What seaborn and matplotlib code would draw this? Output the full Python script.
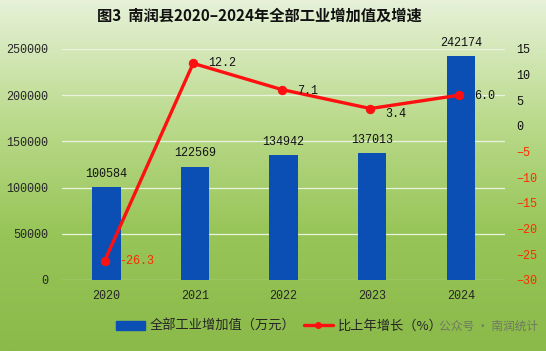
import numpy as np
import pandas as pd
import seaborn as sns
import matplotlib.pyplot as plt
from matplotlib.colors import LinearSegmentedColormap
from matplotlib.patches import Patch
from matplotlib.lines import Line2D

# chart data
years = ['2020', '2021', '2022', '2023', '2024']
value_added = [100584, 122569, 134942, 137013, 242174]
growth = [-26.3, 12.2, 7.1, 3.4, 6.0]
left_ticks = [0, 50000, 100000, 150000, 200000, 250000]
right_ticks = [-30, -25, -20, -15, -10, -5, 0, 5, 10, 15]

sns.set_style('white')
plt.rcParams['font.family'] = ['Noto Sans CJK SC', 'DejaVu Sans']
num_font = 'Liberation Mono'

df = pd.DataFrame({'year': years, 'value': value_added, 'growth': growth})

fig = plt.figure(figsize=(5.46, 3.51), dpi=100)

# green gradient background
bg = fig.add_axes([0, 0, 1, 1], zorder=-10)
grad = np.linspace(0, 1, 256).reshape(-1, 1)
cmap = LinearSegmentedColormap.from_list('bg', ['#e6f1d8', '#bcdb8e', '#97c557', '#8bb94a'])
bg.imshow(grad, aspect='auto', cmap=cmap, extent=[0, 1, 0, 1], origin='upper')
bg.axis('off')

ax = fig.add_axes([0.1136, 0.2023, 0.8114, 0.6581])
ax.patch.set_alpha(0)
sns.barplot(data=df, x='year', y='value', color='#0b4fb5', width=0.32,
            saturation=1, linewidth=0, ax=ax, zorder=3)
ax.set_ylim(0, 250000)
ax.set_xlim(-0.5, 4.5)
ax.set_yticks(left_ticks)
ax.set_yticklabels([str(t) for t in left_ticks], fontfamily=num_font, fontsize=8.5)
ax.set_xticks(range(len(years)))
ax.set_xticklabels(years, fontfamily=num_font, fontsize=8.5)
ax.set_xlabel('')
ax.set_ylabel('')
for t in left_ticks:
    ax.axhline(t, color='#eaf3df', lw=0.9, zorder=1)
for s in ax.spines.values():
    s.set_visible(False)
ax.tick_params(length=0, pad=10)
ax.tick_params(axis='x', pad=7)
for i, v in enumerate(value_added):
    ax.text(i, v + 8000, str(v), ha='center', va='bottom',
            fontfamily=num_font, fontsize=8.5, color='#111111', zorder=5)

ax2 = ax.twinx()
sns.lineplot(x=np.arange(len(years)) - 0.02, y=growth, color='#ff1010', lw=2.4,
             marker='o', markersize=6, markeredgecolor='#ff1010', ax=ax2, zorder=4)
ax2.set_ylim(-30, 15)
ax2.set_yticks(right_ticks)
ax2.set_yticklabels([str(t).replace('-', '\u2212') for t in right_ticks],
                    fontfamily=num_font, fontsize=8.5)
for lbl, t in zip(ax2.get_yticklabels(), right_ticks):
    lbl.set_color('#ff2a00' if t < 0 else '#111111')
ax2.tick_params(length=0, pad=8)
for s in ax2.spines.values():
    s.set_visible(False)

offsets = [(0.15, 0), (0.15, 0), (0.15, -0.2), (0.15, -1.0), (0.15, -0.2)]
for i, g in enumerate(growth):
    dx, dy = offsets[i]
    ax2.text(i + dx, g + dy, f'{g:.1f}', ha='left', va='center',
             fontfamily=num_font, fontsize=8.5,
             color='#ff2a00' if g < 0 else '#111111', zorder=6)

fig.text(0.475, 0.955, '图3  南润县2020–2024年全部工业增加值及增速', ha='center', va='center',
         fontsize=11, fontweight='bold', color='#111111')

handles = [Patch(color='#0b4fb5'),
           Line2D([0], [0], color='#ff1010', lw=2.4, marker='o', markersize=4)]
fig.legend(handles, ['全部工业增加值（万元）', '比上年增长（%）'], loc='center left',
           bbox_to_anchor=(0.19, 0.07), ncol=2, frameon=False, fontsize=9.5,
           handlelength=2.2, columnspacing=0.6, handletextpad=0.4)

fig.text(0.985, 0.07, '公众号 · 南润统计', ha='right', va='center', fontsize=8.5,
         color='#6f7a60')

fig.savefig('out.png', dpi=100)
